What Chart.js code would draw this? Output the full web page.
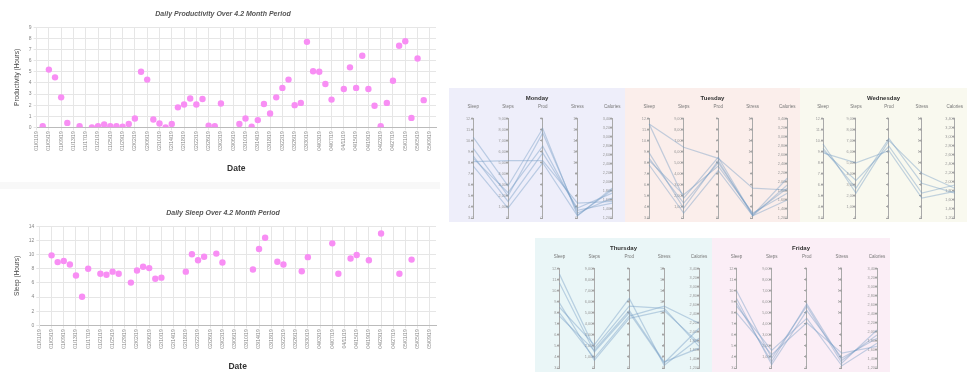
<!DOCTYPE html>
<html>
<head>
<meta charset="utf-8">
<script src="https://cdn.jsdelivr.net/npm/chart.js@4.4.1/dist/chart.umd.min.js"></script>
<style>
  body { margin: 0; width: 967px; height: 372px; background: #fff; position: relative; overflow: hidden; }
  .box { position: absolute; }
  .sep { position: absolute; left: 0; top: 182px; width: 440px; height: 7px; background: #f8f8f8; }
</style>
</head>
<body>
<div class="box" style="left:0;top:0"><canvas id="prod-chart" width="440" height="182"></canvas></div>
<div class="sep"></div>
<div class="box" style="left:0;top:188px"><canvas id="sleep-chart" width="440" height="184"></canvas></div>

<div class="box" style="left:449px;top:88px;background:#eeeefa"><canvas id="mon" width="176" height="134"></canvas></div>
<div class="box" style="left:625px;top:88px;background:#fbeeeb"><canvas id="tue" width="175" height="134"></canvas></div>
<div class="box" style="left:800px;top:88px;background:#f9f9ef"><canvas id="wed" width="167" height="134"></canvas></div>
<div class="box" style="left:535px;top:238px;background:#eaf6f7"><canvas id="thu" width="177" height="134"></canvas></div>
<div class="box" style="left:712px;top:238px;background:#fbeef6"><canvas id="fri" width="178" height="134"></canvas></div>

<script>
// dates (every second day, 4.2 months)
const dates = [
  '01/01/19','01/03/19','01/05/19','01/07/19','01/09/19','01/11/19','01/13/19','01/15/19',
  '01/17/19','01/19/19','01/21/19','01/23/19','01/25/19','01/27/19','01/29/19','01/31/19',
  '02/02/19','02/04/19','02/06/19','02/08/19','02/10/19','02/12/19','02/14/19','02/16/19',
  '02/18/19','02/20/19','02/22/19','02/24/19','02/26/19','02/28/19',
  '03/02/19','03/04/19','03/06/19','03/08/19','03/10/19','03/12/19','03/14/19','03/16/19',
  '03/18/19','03/20/19','03/22/19','03/24/19','03/26/19','03/28/19','03/30/19',
  '04/01/19','04/03/19','04/05/19','04/07/19','04/09/19','04/11/19','04/13/19','04/15/19',
  '04/17/19','04/19/19','04/21/19','04/23/19','04/25/19','04/27/19','04/29/19',
  '05/01/19','05/03/19','05/05/19','05/07/19','05/09/19','05/11/19'
];

// hours per day, null = no entry
const productivity = [
  null, 0.1, 5.2, 4.5, 2.7, 0.4, null, 0.1, null, 0.0,
  0.1, 0.25, 0.1, 0.1, 0.05, 0.3, 0.8, 5.0, 4.3, 0.7,
  0.35, 0.0, 0.3, 1.8, 2.05, 2.6, 2.05, 2.55, 0.15, 0.1,
  2.15, null, null, 0.3, 0.8, 0.05, 0.65, 2.1, 1.25, 2.7,
  3.55, 4.3, 2.0, 2.2, 7.7, 5.05, 5.0, 3.9, 2.5, null,
  3.45, 5.4, 3.55, 6.45, 3.45, 1.95, 0.1, 2.2, 4.2, 7.35,
  7.75, 0.85, 6.2, 2.45, null, null
];

const sleep = [
  null, null, 9.9, 8.95, 9.1, 8.6, 7.05, 4.05, 8.0, null,
  7.3, 7.15, 7.6, 7.3, null, 6.05, 7.75, 8.3, 8.1, 6.6,
  6.75, null, null, null, 7.6, 10.05, 9.2, 9.7, null, 10.15,
  8.9, null, null, null, null, 7.9, 10.8, 12.4, null, 9.0,
  8.6, null, null, 7.65, 9.65, null, null, null, 11.6, 7.3,
  null, 9.45, 9.95, null, 9.2, null, 13.0, null, null, 7.3,
  null, 9.3, null, null, null, null
];

// parallel coordinates: axes and one row per logged day
const axisNames = ['Sleep', 'Steps', 'Prod', 'Stress', 'Calories'];
const axisMin = [3, 0, 0, 0, 1200];
const axisMax = [12, 9000, 9, 18, 3400];
const axisStep = [0.5, 500, 1, 1, 200];

const monday = [
  [10.3, 2900, 8.1, 0.5, 1820],
  [9.3, 2000, 7.7, 0.9, 1640],
  [8.6, 1500, 5.9, 1.8, 1750],
  [8.1, 5200, 5.2, 2.7, 1570],
  [7.7, 900, 5.0, 0.4, 1860],
  [8.4, 2300, 6.5, 1.4, 1530]
];
const tuesday = [
  [11.5, 1800, 5.5, 0.5, 2080],
  [8.9, 900, 5.2, 0.4, 1930],
  [8.2, 2100, 4.7, 0.9, 1750],
  [7.8, 450, 4.3, 0.4, 1600],
  [11.5, 6400, 5.4, 5.4, 1820],
  [8.4, 1350, 5.0, 0.7, 1860]
];
const wednesday = [
  [9.7, 2250, 7.0, 8.1, 1860],
  [9.1, 3400, 6.5, 4.5, 1930],
  [8.9, 5000, 6.1, 3.6, 1790],
  [9.3, 2700, 7.2, 6.3, 1750]
];
const thursday = [
  [11.5, 1800, 5.6, 10.8, 1680],
  [10.7, 1450, 5.0, 0.9, 2080],
  [8.5, 2100, 6.3, 0.5, 1860],
  [8.0, 900, 4.7, 11.2, 2190],
  [7.7, 1600, 5.2, 1.1, 1640],
  [8.9, 700, 4.5, 10.4, 1750]
];
const friday = [
  [10.0, 900, 5.6, 0.9, 2040],
  [9.3, 300, 5.2, 1.8, 1860],
  [8.6, 1600, 4.5, 0.4, 1750],
  [8.0, 1200, 4.1, 2.7, 1680],
  [8.9, 550, 5.8, 1.4, 1930]
];

const FONT = "'Liberation Sans', Arial, sans-serif";
Chart.defaults.font.family = FONT;

//scatter charts
function dailyChart(id, title, yTitle, values, yMax, step, padTop, padBottom) {
  new Chart(document.getElementById(id), {
    type: 'line',
    data: {
      labels: dates,
      datasets: [{
        data: values,
        showLine: false,
        pointRadius: 3.2,
        pointBackgroundColor: '#f88ef4',
        pointBorderWidth: 0
      }]
    },
    options: {
      responsive: false,
      animation: false,
      layout: { padding: { top: padTop, right: 3, left: 9, bottom: padBottom } },
      plugins: {
        legend: { display: false },
        tooltip: { enabled: false },
        title: {
          display: true,
          text: title,
          color: '#555',
          font: { size: 7, style: 'italic' },
          padding: { top: 0, bottom: 9 }
        }
      },
      scales: {
        x: {
          grid: { color: '#e6e6e6', tickLength: 3 },
          border: { color: '#bbb' },
          ticks: {
            autoSkip: false,
            maxRotation: 90,
            minRotation: 90,
            color: '#888',
            font: { size: 5 },
            padding: 1,
            callback: (v, i) => i % 2 === 0 ? dates[i] : null
          },
          title: {
            display: true,
            text: 'Date',
            color: '#333',
            font: { size: 8.5, weight: 'bold' },
            padding: { top: 12, bottom: 0 }
          }
        },
        y: {
          min: 0,
          max: yMax,
          grid: { color: '#e6e6e6', tickLength: 3 },
          border: { color: '#e6e6e6' },
          ticks: { stepSize: step, color: '#888', font: { size: 5 }, padding: 2 },
          title: {
            display: true,
            text: yTitle,
            color: '#444',
            font: { size: 6.5 },
            padding: { bottom: 6 }
          }
        }
      }
    }
  });
}

dailyChart('prod-chart', 'Daily Productivity Over 4.2 Month Period', 'Productivity (Hours)', productivity, 9, 1, 10, 8);
dailyChart('sleep-chart', 'Daily Sleep Over 4.2 Month Period', 'Sleep (Hours)', sleep, 14, 2, 21, 0);

//parallel coordinates, one per weekday
function dayChart(id, title, rows) {
  const scales = {
    x: {
      type: 'linear',
      position: 'top',
      min: -0.7,
      max: 4.37,
      grid: { display: false },
      border: { display: false },
      afterBuildTicks: s => { s.ticks = axisNames.map((n, i) => ({ value: i })); },
      ticks: { callback: v => axisNames[v], color: '#777', font: { size: 4.5 }, padding: 1, maxRotation: 0 }
    },
    y: { display: false, min: 0, max: 1 }
  };
  axisNames.forEach((n, i) => {
    scales['y' + i] = {
      axis: 'y',
      type: 'linear',
      position: { x: i },
      min: axisMin[i],
      max: axisMax[i],
      grid: { drawOnChartArea: false, tickLength: 2, color: '#aaa' },
      border: { color: '#aaa' },
      ticks: { stepSize: axisStep[i], color: '#999', font: { size: 3.8 }, padding: 1 }
    };
  });

  new Chart(document.getElementById(id), {
    type: 'line',
    data: {
      datasets: rows.map(r => ({
        data: r.map((v, i) => ({ x: i, y: (v - axisMin[i]) / (axisMax[i] - axisMin[i]) })),
        yAxisID: 'y',
        borderColor: 'rgba(115,155,195,0.42)',
        borderWidth: 1.2,
        pointRadius: 0,
        tension: 0
      }))
    },
    options: {
      responsive: false,
      animation: false,
      layout: { padding: { top: 0, bottom: 4, left: 0, right: 0 } },
      plugins: {
        legend: { display: false },
        tooltip: { enabled: false },
        title: {
          display: true,
          text: title,
          color: '#333',
          font: { size: 6, weight: 'bold' },
          padding: { top: 7, bottom: 1 }
        }
      },
      scales: scales
    }
  });
}

dayChart('mon', 'Monday', monday);
dayChart('tue', 'Tuesday', tuesday);
dayChart('wed', 'Wednesday', wednesday);
dayChart('thu', 'Thursday', thursday);
dayChart('fri', 'Friday', friday);
</script>
</body>
</html>
